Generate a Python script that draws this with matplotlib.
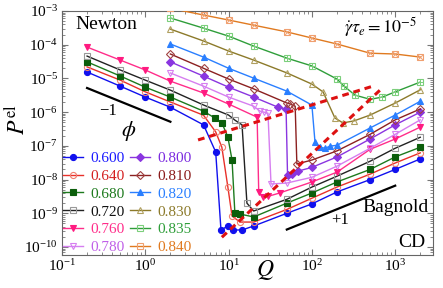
import matplotlib
matplotlib.use("Agg")
import matplotlib.pyplot as plt
import matplotlib.ticker as mt
from matplotlib.lines import Line2D

plt.rcParams['font.family'] = ['Liberation Serif', 'DejaVu Serif']
plt.rcParams['mathtext.fontset'] = 'stix'

phi_labels = ["0.600", "0.640", "0.680", "0.720", "0.760", "0.780",
              "0.800", "0.810", "0.820", "0.830", "0.835", "0.840"]

Q600 = [0.2, 0.5, 1, 2, 5, 7, 8.1, 9.8, 11.3, 14.5, 20, 50, 100, 200, 500, 1000, 2000]
P600 = [1.55e-5, 5.9e-6, 2.8e-6, 1.4e-6, 4.2e-7, 6.6e-8, 3.2e-10, 4.2e-10, 3.2e-10, 3.2e-10,
        4.2e-10, 1.0e-9, 1.9e-9, 4.3e-9, 1.0e-8, 2.0e-8, 4.1e-8]
Q640 = [0.2, 0.5, 1, 2, 5, 7, 8.3, 9.8, 11, 13.7, 20, 50, 100, 200, 500, 1000, 2000]
P640 = [2.2e-5, 8.9e-6, 4.0e-6, 2.0e-6, 8.1e-7, 2.6e-7, 9.1e-8, 6.0e-9, 8.3e-10, 5.5e-10,
        5.5e-10, 1.3e-9, 2.8e-9, 6.0e-9, 1.45e-8, 3.1e-8, 6.2e-8]
Q680 = [0.2, 0.5, 1, 2, 5, 6.9, 8.3, 9.8, 11, 11.9, 13.7, 20, 50, 100, 200, 500, 1000, 2000]
P680 = [3.1e-5, 1.18e-5, 5.5e-6, 2.8e-6, 1.07e-6, 6.6e-7, 4.8e-7, 1.83e-7, 3.8e-8, 1.0e-9,
        9.5e-10, 7.8e-10, 2.0e-9, 4.0e-9, 8.5e-9, 2.0e-8, 4.7e-8, 9.1e-8]
Q720 = [0.2, 0.5, 1, 2, 5, 10, 11.9, 14.5, 16.6, 20, 50, 100, 200, 500, 1000, 2000]
P720 = [4.6e-5, 1.78e-5, 8.9e-6, 4.5e-6, 1.63e-6, 8.2e-7, 5.8e-7, 4.2e-7, 2.0e-9, 1.17e-9,
        2.6e-9, 6.0e-9, 1.26e-8, 3.5e-8, 8.5e-8, 1.8e-7]
Q760 = [0.2, 0.5, 1, 2, 5, 10, 22, 23, 26, 30, 41, 100, 200, 500, 1000, 2000]
P760 = [8.5e-5, 3.5e-5, 1.78e-5, 8.3e-6, 3.7e-6, 1.74e-6, 7.1e-7, 4.3e-9, 3.0e-9, 3.2e-9,
        4.0e-9, 8.5e-9, 1.66e-8, 7.9e-8, 1.6e-7, 3.6e-7]
Q780 = [2, 5, 10, 20, 23.8, 26.6, 29.7, 32.3, 50, 100, 200, 500, 1000, 2000]
P780 = [1.45e-5, 5.9e-6, 2.8e-6, 1.5e-6, 1.07e-6, 1.0e-6, 9.3e-7, 7.4e-9, 7.9e-9, 1.17e-8,
        2.5e-8, 8.5e-8, 2.2e-7, 5.9e-7]
Q800 = [2, 5, 10, 20, 39, 49, 51, 58, 68, 100, 200, 500, 1000, 2000]
P800 = [3.1e-5, 1.17e-5, 5.5e-6, 2.8e-6, 1.41e-6, 1.23e-6, 1.35e-8, 1.45e-8, 1.78e-8, 2.3e-8,
        4.7e-8, 1.6e-7, 4.2e-7, 1.0e-6]
Q810 = [2, 5, 10, 20, 50, 55, 63, 66, 100, 200, 500, 1000, 2000]
P810 = [5.3e-5, 2.0e-5, 9.6e-6, 4.9e-6, 1.87e-6, 1.74e-6, 1.5e-6, 2.9e-8, 3.8e-8, 7.1e-8,
        2.2e-7, 5.9e-7, 1.24e-6]
Q820 = [2, 5, 10, 20, 50, 100, 109, 125, 144, 165, 200, 500, 1000, 2000]
P820 = [1.05e-4, 4.3e-5, 2.0e-5, 1.02e-5, 4.2e-6, 1.62e-6, 1.29e-7, 9.1e-8, 8.5e-8, 9.8e-8,
        1.04e-7, 3.4e-7, 8.2e-7, 2.1e-6]
Q830 = [2, 5, 10, 20, 50, 100, 136, 189, 236, 320, 500, 1000, 2000]
P830 = [2.9e-4, 1.29e-4, 6.5e-5, 3.5e-5, 1.46e-5, 6.8e-6, 4.0e-6, 6.7e-7, 4.8e-7, 5.5e-7,
        8.2e-7, 1.86e-6, 4.6e-6]
Q835 = [2, 5, 10, 20, 50, 100, 200, 243, 330, 500, 700, 1000, 2000]
P835 = [6.2e-4, 3.1e-4, 1.8e-4, 9.1e-5, 4.0e-5, 2.35e-5, 9.6e-6, 5.9e-6, 3.2e-6, 2.4e-6,
        2.8e-6, 4.0e-6, 7.8e-6]
Q840 = [2, 5, 10, 20, 50, 100, 200, 500, 1000, 2000]
P840 = [1.2e-3, 7.6e-4, 5.4e-4, 3.8e-4, 2.4e-4, 1.58e-4, 1.05e-4, 5.6e-5, 5.3e-5, 4.3e-5]

all_Q = [Q600, Q640, Q680, Q720, Q760, Q780, Q800, Q810, Q820, Q830, Q835, Q840]
all_P = [P600, P640, P680, P720, P760, P780, P800, P810, P820, P830, P835, P840]

# reference slopes and crossover lines
newton_Q = [0.2, 2]
newton_P = [5.2e-6, 5.2e-7]
bagnold_Q = [50, 1000]
bagnold_P = [3.3e-10, 6.6e-9]
cross1_Q = [4.3, 540]
cross1_P = [1.5e-7, 5.9e-6]
cross2_Q = [8.3, 700]
cross2_P = [1.95e-10, 5.2e-6]

x_major = [0.1, 1, 10, 100, 1000]
y_major = [1e-10, 1e-9, 1e-8, 1e-7, 1e-6, 1e-5, 1e-4, 1e-3]

# styles: (line colour, marker, marker face, marker edge, text colour)
styles = [
    ("#1010ee", "o", "#1010ee", "#1010ee", "#1a1aff"),
    ("#e8302a", "o", "none", "#f08070", "#d42020"),
    ("#1d7a1d", "s", "#0b5e0b", "#0b5e0b", "#1d7a1d"),
    ("#222222", "s", "none", "#999999", "#111111"),
    ("#ff2d8a", "v", "#ff1a80", "#ff1a80", "#ff2d8a"),
    ("#d67ef0", "v", "none", "#d67ef0", "#c060e8"),
    ("#8a35e0", "D", "#8a35e0", "#8a35e0", "#7b2be0"),
    ("#8b2020", "D", "none", "#a04040", "#8b1a1a"),
    ("#2a7fff", "^", "#2a7fff", "#2a7fff", "#2a7fff"),
    ("#8c7a2a", "^", "none", "#b0a060", "#8c7a2a"),
    ("#2f9e3a", "s", "none", "#7ccf7c", "#2f9e3a"),
    ("#e07a20", "s", "none", "#f0a070", "#e07a20"),
]
overlay = {10: "+", 11: "x"}

W, H = 443, 288
fig = plt.figure(figsize=(W / 100, H / 100), dpi=100)
ax = fig.add_axes([62 / W, 1 - 255 / H, (433 - 62) / W, (255 - 11) / H])
ax.set_xscale("log")
ax.set_yscale("log")

handles = []
for i, (Q, P) in enumerate(zip(all_Q, all_P)):
    lc, mk, mf, me, tc = styles[i]
    ms = 4.4 if mk != "D" else 3.8
    if i in (10, 11):
        ms = 5
    ax.plot(Q, P, color=lc, lw=1.0, marker=mk, ms=ms, mfc=mf, mec=me, mew=0.8, zorder=3)
    if i in overlay:
        ax.plot(Q, P, ls="none", marker=overlay[i], ms=ms - 0.5, mec=me, mew=0.7, zorder=4)
    h = Line2D([], [], color=lc, lw=1.0, marker=mk, ms=ms, mfc=mf, mec=me, mew=0.8)
    handles.append(h)

ax.plot(newton_Q, newton_P, color="black", lw=1.6, zorder=2)
ax.plot(bagnold_Q, bagnold_P, color="black", lw=1.6, zorder=2)
ax.plot(cross1_Q, cross1_P, color="#dd1111", lw=2.2, ls=(0, (2.2, 1.6)), zorder=5)
ax.plot(cross2_Q, cross2_P, color="#dd1111", lw=2.2, ls=(0, (2.2, 1.6)), zorder=5)

ax.set_xlim(0.1, 2844)
ax.set_ylim(5.8e-11, 1e-3)

ax.xaxis.set_major_locator(mt.FixedLocator(x_major))
ax.yaxis.set_major_locator(mt.FixedLocator(y_major))
x_minor = [m * d for d in x_major for m in range(2, 10) if m * d < 2844]
y_minor = [m * d for d in [1e-11] + y_major[:-1] for m in range(2, 10) if m * d > 5.8e-11]
ax.xaxis.set_minor_locator(mt.FixedLocator(x_minor))
ax.yaxis.set_minor_locator(mt.FixedLocator(y_minor))
ax.xaxis.set_major_formatter(mt.LogFormatterSciNotation())
ax.yaxis.set_major_formatter(mt.LogFormatterSciNotation())
ax.xaxis.set_minor_formatter(mt.NullFormatter())
ax.yaxis.set_minor_formatter(mt.NullFormatter())

ax.tick_params(which="both", direction="in", top=True, right=True, color="#777777",
               labelsize=11)
ax.tick_params(which="major", length=4.5)
ax.tick_params(which="minor", length=2.2)
ax.tick_params(axis="x", pad=2)
ax.tick_params(axis="y", pad=3)
for s in ax.spines.values():
    s.set_color("#666666")
    s.set_linewidth(0.8)

fig.text(265 / W, 1 - 270 / H, r"$Q$", fontsize=17, ha="center", va="center")
fig.text(17 / W, 1 - 120 / H, r"$P^{\mathrm{el}}$", fontsize=17, ha="center", va="center",
         rotation=90)

ax.text(0.119, 0.943, "Newton", transform=ax.transAxes, fontsize=14, ha="center", va="center")
ax.text(0.86, 0.934, r"$\dot{\gamma}\tau_e = 10^{-5}$", transform=ax.transAxes, fontsize=13,
        ha="center", va="center")
ax.text(0.898, 0.193, "Bagnold", transform=ax.transAxes, fontsize=14, ha="center", va="center")
ax.text(0.943, 0.053, "CD", transform=ax.transAxes, fontsize=14, ha="center", va="center")
ax.text(0.124, 0.59, "\u22121", transform=ax.transAxes, fontsize=12, ha="center", va="center")
ax.text(0.18, 0.508, r"$\phi$", transform=ax.transAxes, fontsize=16, ha="center", va="center")
ax.text(0.749, 0.143, "+1", transform=ax.transAxes, fontsize=12, ha="center", va="center")

leg = ax.legend(handles, phi_labels, ncol=2, loc="lower left", bbox_to_anchor=(0.0, 0.0),
                frameon=False, fontsize=11, handlelength=1.3, handletextpad=0.5,
                columnspacing=0.35, labelspacing=0.27, borderaxespad=0.05, borderpad=0.0)
for t, st in zip(leg.get_texts(), styles):
    t.set_color(st[4])

fig.savefig("out.png", dpi=100)
